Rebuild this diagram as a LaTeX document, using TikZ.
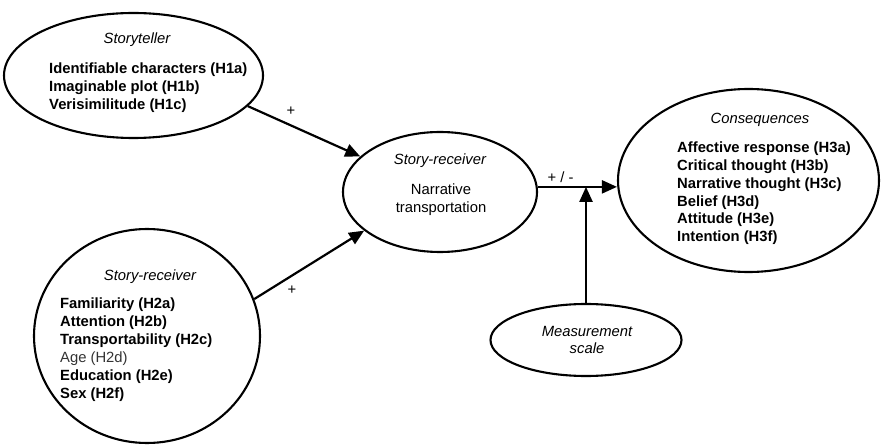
\documentclass[tikz,border=0pt]{standalone}
\usepackage{fontspec}
\setmainfont{Liberation Sans}
\usetikzlibrary{shapes.geometric,arrows.meta}
\begin{document}
\begin{tikzpicture}[x=1pt,y=-1pt,
  bubble/.style={draw,ellipse,line width=2.1pt,inner sep=0pt},
  arr/.style={line width=2.2pt,-{Triangle[length=15pt,width=13pt]}},
  txt/.style={inner sep=0pt,font=\fontsize{14.8}{17.8}\selectfont},
  head/.style={txt,anchor=base,font=\fontsize{14.8}{17.8}\selectfont\itshape},
  items/.style={txt,anchor=north west,align=left,font=\fontsize{14.8}{17.8}\selectfont\bfseries},
  sign/.style={txt,anchor=center}]
\useasboundingbox (0,0) rectangle (881,446);

% ellipses
\node[bubble,minimum width=259pt,minimum height=125pt] (st)   at (133.5,75.5) {};
\node[bubble,minimum width=194pt,minimum height=120pt] (mid)  at (440,192) {};
\node[bubble,minimum width=261pt,minimum height=183pt] (cons) at (748.5,180.5) {};
\node[bubble,minimum width=226pt,minimum height=214pt] (recv) at (147,336) {};
\node[bubble,minimum width=191pt,minimum height=72pt]  (meas) at (586,340) {};

% storyteller
\node[head] (sthead) at (137,44) {Storyteller};
\node[items] (stlist) at (49,63) {Identifiable characters (H1a)\\Imaginable plot (H1b)\\Verisimilitude (H1c)};

% story-receiver (transportation)
\node[head] (midhead) at (440,165) {Story-receiver};
\node[txt,anchor=north,align=center,font=\fontsize{14.8}{17.3}\selectfont] (midtext) at (441,184) {Narrative\\transportation};

% consequences
\node[head] (conshead) at (760,123.5) {Consequences};
\node[items,font=\fontsize{14.8}{17.7}\selectfont\bfseries] (conslist) at (677,142) {Affective response (H3a)\\Critical thought (H3b)\\Narrative thought (H3c)\\Belief (H3d)\\Attitude (H3e)\\Intention (H3f)};

% story-receiver (characteristics)
\node[head] (recvhead) at (150,281) {Story-receiver};
\node[items,font=\fontsize{14.8}{18}\selectfont\bfseries] (recvlist) at (60,298) {Familiarity (H2a)\\Attention (H2b)\\Transportability (H2c)\\{\mdseries\color{black!80}Age (H2d)}\\Education (H2e)\\Sex (H2f)};

% measurement scale
\node[txt,anchor=north,align=center,font=\fontsize{14.8}{17.5}\selectfont\itshape] (meastext) at (587,326) {Measurement\\scale};

% connectors
\draw[arr] (st.-15.3) -- (mid.156);
\draw[arr] (recv.19) -- (mid.207);
\coordinate (split) at (mid.3);
\draw[arr] (split) -- (split -| cons.west);
\draw[arr] (meas.north) -- (meas.north |- split);

% signs
\node[sign] (p1) at (291,111) {+};
\node[sign] (p2) at (292,290) {+};
\node[sign] (pm) at (560.5,177) {+ / -};
\end{tikzpicture}
\end{document}
